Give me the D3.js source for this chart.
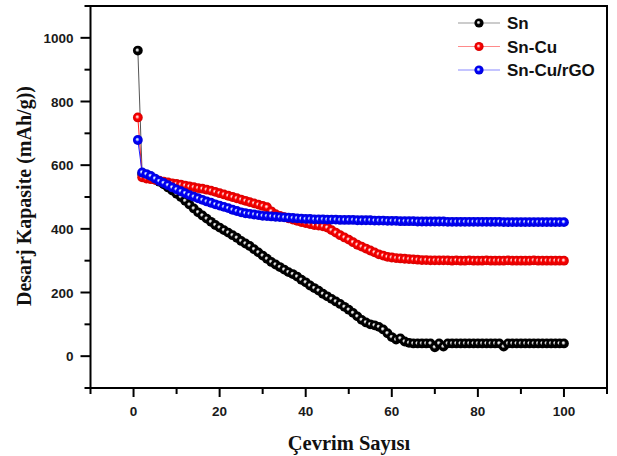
<!DOCTYPE html>
<html>
<meta charset="utf-8">
<head>
<title>Desarj Kapasite</title>
<style>
  body { margin: 0; background: #fff; }
  svg { display: block; }
</style>
<script src="https://d3js.org/d3.v7.min.js"></script>
</head>
<body>
<div id="chart"></div>
<script>

// cycles 1..100
var cycles = d3.range(1, 101)

var sn = [960, 572, 565, 560, 555, 548, 540, 530, 520, 510,
          500, 488, 476, 464, 452, 442, 432, 422, 412, 404,
          396, 388, 380, 372, 362, 354, 346, 336, 326, 316,
          306, 296, 288, 280, 272, 264, 258, 250, 240, 232,
          222, 214, 206, 196, 188, 180, 172, 164, 155, 146,
          136, 125, 114, 106, 100, 97, 92, 84, 72, 60,
          52, 56, 46, 42, 40, 40, 40, 40, 40, 28,
          40, 30, 40, 40, 40, 40, 40, 40, 40, 40,
          40, 40, 40, 40, 40, 30, 40, 40, 40, 40,
          40, 40, 40, 40, 40, 40, 40, 40, 40, 40]

var snCu = [750, 562, 558, 556, 554, 551, 548, 546, 543, 541,
            539, 536, 533, 531, 528, 526, 523, 520, 516, 512,
            508, 504, 500, 496, 492, 488, 484, 480, 476, 472,
            468, 455, 446, 441, 437, 433, 429, 425, 421, 418,
            415, 412, 410, 408, 404, 396, 388, 380, 373, 366,
            358, 350, 344, 338, 332, 326, 320, 316, 312, 310,
            308, 307, 306, 305, 304, 303, 302, 302, 301, 301,
            301, 301, 301, 300, 301, 300, 300, 301, 300, 300,
            300, 301, 300, 300, 300, 300, 301, 300, 300, 300,
            300, 300, 301, 300, 300, 300, 300, 300, 300, 300]

var snCuRgo = [679, 577, 572, 566, 558, 550, 544, 537, 530, 524,
               518, 512, 506, 501, 496, 491, 486, 482, 477, 473,
               469, 465, 460, 456, 452, 449, 447, 445, 443, 441,
               440, 439, 438, 437, 436, 435, 434, 433, 432, 431,
               431, 430, 430, 430, 429, 429, 429, 428, 428, 428,
               428, 427, 427, 427, 427, 426, 426, 426, 425, 425,
               425, 424, 424, 424, 424, 423, 423, 423, 423, 423,
               423, 423, 422, 422, 422, 422, 422, 422, 422, 422,
               422, 422, 422, 422, 422, 421, 421, 421, 421, 421,
               421, 421, 421, 421, 421, 421, 421, 421, 421, 421]

var seriesNames = ["Sn", "Sn-Cu", "Sn-Cu/rGO"]
var seriesValues = [sn, snCu, snCuRgo]
var seriesColors = ["#000000", "#ff0000", "#0000ff"]
var seriesLight = ["#d0d0d0", "#ffb0b0", "#b0c4ff"]
var lineColors = ["#555555", "#ff2020", "#2020ff"]
var legendLineColors = ["#9a9a9a", "#ff8a8a", "#8a8aff"]

var xTicks = [0, 20, 40, 60, 80, 100]
var yTicks = [0, 200, 400, 600, 800, 1000]

var width = 617, height = 456

var svg = d3.select("#chart").append("svg")
  .attr("width", width)
  .attr("height", height)

var x = d3.scaleLinear().domain([-10, 110]).range([90.5, 607])
var y = d3.scaleLinear().domain([-100, 1100]).range([388, 6])

// gradients for the shaded balls
var defs = svg.append("defs")
seriesColors.forEach(function(c, i) {
  var g = defs.append("radialGradient")
    .attr("id", "ball" + i)
    .attr("cx", "0.5").attr("cy", "0.5").attr("r", "0.5")
    .attr("fx", "0.42").attr("fy", "0.42")
  g.append("stop").attr("offset", "0%").attr("stop-color", "#ffffff")
  g.append("stop").attr("offset", "18%").attr("stop-color", seriesLight[i])
  g.append("stop").attr("offset", "45%").attr("stop-color", c)
  g.append("stop").attr("offset", "100%").attr("stop-color", d3.color(c).darker(0.5))
})

// axes with outward ticks
var xMinor = d3.range(-10, 111, 10)
var yMinor = d3.range(-100, 1101, 100)

var xAxis = svg.append("g").attr("transform", "translate(0," + y(-100) + ")")
xAxis.selectAll("line").data(xMinor).enter().append("line")
  .attr("x1", d => x(d)).attr("x2", d => x(d))
  .attr("y1", 0).attr("y2", d => (d % 20 === 0) ? 9 : 6)
  .attr("stroke", "#000").attr("stroke-width", 2)
xAxis.selectAll("text").data(xTicks).enter().append("text")
  .attr("x", d => x(d)).attr("y", 28)
  .attr("text-anchor", "middle")
  .style("font-family", "Liberation Sans, Arial, sans-serif")
  .style("font-weight", "bold").style("font-size", "13.5px")
  .style("fill", "#1a1a1a")
  .text(d => d)

var yAxis = svg.append("g").attr("transform", "translate(" + x(-10) + ",0)")
yAxis.selectAll("line").data(yMinor).enter().append("line")
  .attr("y1", d => y(d)).attr("y2", d => y(d))
  .attr("x1", 0).attr("x2", d => (d % 200 === 0) ? -10 : -6)
  .attr("stroke", "#000").attr("stroke-width", 2)
yAxis.selectAll("text").data(yTicks).enter().append("text")
  .attr("x", -17).attr("y", d => y(d) + 5)
  .attr("text-anchor", "end")
  .style("font-family", "Liberation Sans, Arial, sans-serif")
  .style("font-weight", "bold").style("font-size", "13.5px")
  .style("fill", "#1a1a1a")
  .text(d => d)

// frame
svg.append("rect")
  .attr("x", x(-10)).attr("y", y(1100))
  .attr("width", x(110) - x(-10)).attr("height", y(-100) - y(1100))
  .attr("fill", "none").attr("stroke", "#000").attr("stroke-width", 2)

// series
var line = d3.line()
  .x(function(d, i) { return x(cycles[i]) })
  .y(function(d) { return y(d) })

seriesValues.forEach(function(vals, s) {
  var g = svg.append("g")
  g.append("path")
    .attr("d", line(vals))
    .attr("fill", "none")
    .attr("stroke", lineColors[s])
    .attr("stroke-width", 1)
  g.selectAll("circle").data(vals).enter().append("circle")
    .attr("cx", function(d, i) { return x(cycles[i]) })
    .attr("cy", d => y(d))
    .attr("r", 4.9)
    .attr("fill", "url(#ball" + s + ")")
})

// legend
var legend = svg.append("g")
seriesNames.forEach(function(n, i) {
  var ly = 23 + i * 23.5
  legend.append("line")
    .attr("x1", 458).attr("x2", 500).attr("y1", ly).attr("y2", ly)
    .attr("stroke", legendLineColors[i]).attr("stroke-width", 1.2)
  legend.append("circle")
    .attr("cx", 479).attr("cy", ly).attr("r", 4.6)
    .attr("fill", "url(#ball" + i + ")")
  legend.append("text")
    .attr("x", 507).attr("y", ly + 6)
    .style("font-family", "Liberation Sans, Arial, sans-serif")
    .style("font-weight", "bold").style("font-size", "17px")
    .style("fill", "#111")
    .text(n)
})

// axis titles
svg.append("text")
  .attr("x", 349).attr("y", 450)
  .attr("text-anchor", "middle")
  .style("font-family", "Liberation Serif, Times New Roman, serif")
  .style("font-weight", "bold").style("font-size", "20.5px")
  .style("fill", "#111")
  .text("Çevrim Sayısı")

svg.append("text")
  .attr("transform", "translate(31,196) rotate(-90)")
  .attr("text-anchor", "middle")
  .style("font-family", "Liberation Serif, Times New Roman, serif")
  .style("font-weight", "bold").style("font-size", "20px")
  .style("fill", "#111")
  .text("Desarj Kapasite (mAh/g))")

</script>
</body>
</html>
